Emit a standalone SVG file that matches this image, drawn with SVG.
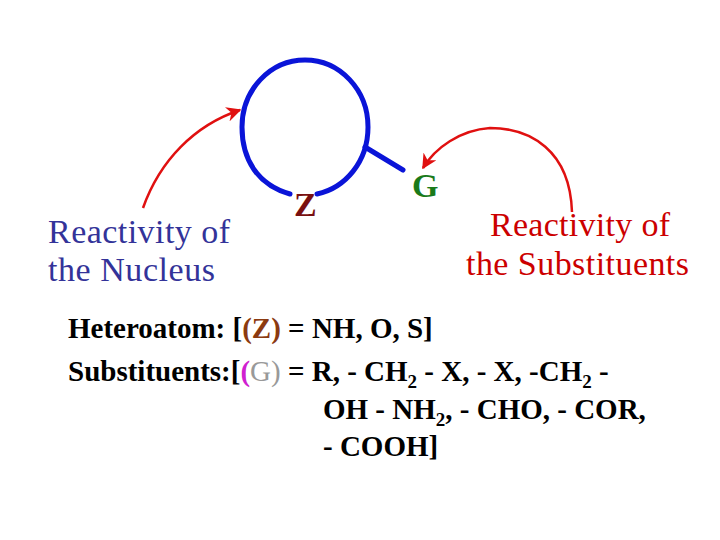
<svg xmlns="http://www.w3.org/2000/svg" width="720" height="540" viewBox="0 0 720 540">
<style>
.t{font-family:"Liberation Serif",serif;font-size:34px}
.b{font-family:"Liberation Serif",serif;font-size:29px;font-weight:bold;fill:#000}
.ring{fill:none;stroke:#0a14d8;stroke-width:5;stroke-linecap:round}
.arr{fill:none;stroke:#e01010;stroke-width:2.5}
</style>
<defs><marker id="ah" viewBox="0 0 10 10" refX="9" refY="5" markerWidth="6" markerHeight="6" orient="auto" markerUnits="strokeWidth"><path d="M0,0 L10,5 L0,10 L3,5 Z" fill="#e01010"/></marker></defs>
<rect width="720" height="540" fill="#fff"/>
<g id="ring">
<path class="ring" d="M290,194 C258,185 242,160 242,127 C242,90 270,60 305,60 C340,60 368,90 368,127 C368,162 345,188 317,194"/>
<line class="ring" x1="365" y1="147" x2="403" y2="170"/>
</g>
<g id="Z"><text class="t" x="294" y="216" font-weight="bold" fill="#7a1010">Z</text></g>
<g id="G"><text class="t" x="412" y="197" font-weight="bold" fill="#1a7a1a">G</text></g>
<g id="nucleus"><text class="t" x="48" y="243" fill="#333399" textLength="182">Reactivity of</text><text class="t" x="48" y="281" fill="#333399" textLength="167">the Nucleus</text></g>
<g id="subst"><text class="t" x="490" y="236" fill="#cc0000" textLength="180">Reactivity of</text><text class="t" x="466" y="275" fill="#cc0000" textLength="223">the Substituents</text></g>
<g id="connectors">
<path class="arr" d="M143,208 C160,160 195,125 240,110" marker-end="url(#ah)"/>
<path class="arr" d="M572,212 C570,150 530,128 490,128 C460,130 435,148 423,168" marker-end="url(#ah)"/>
</g>
<g id="legend">
<text class="b" x="68" y="338">Heteroatom: [<tspan fill="#8b3a10">(Z)</tspan> = NH, O, S]</text>
<text class="b" x="68" y="381">Substituents:[<tspan fill="#d020d0">(</tspan><tspan fill="#999" font-weight="normal">G)</tspan> = R, - CH<tspan font-size="19" dy="7">2</tspan><tspan dy="-7"> - X, - X, -CH</tspan><tspan font-size="19" dy="7">2</tspan><tspan dy="-7"> -</tspan></text>
<text class="b" x="323" y="419">OH - NH<tspan font-size="19" dy="7">2</tspan><tspan dy="-7">, - CHO, - COR,</tspan></text>
<text class="b" x="323" y="456">- COOH]</text>
</g>
</svg>
